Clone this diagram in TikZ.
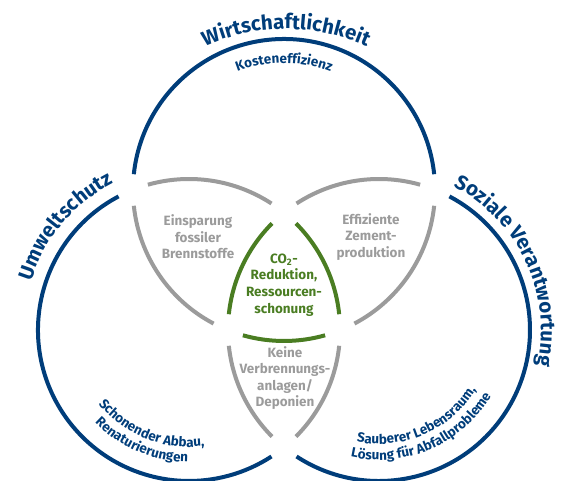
\documentclass[tikz,border=0pt]{standalone}
\usepackage{fontspec}
\setmainfont{Fira Sans}
\usetikzlibrary{decorations.text}

\definecolor{nblau}{RGB}{0,61,122}
\definecolor{ngrau}{RGB}{155,155,155}
\definecolor{ngruen}{RGB}{74,125,34}

\tikzstyle{ring} = [draw=nblau, line width=4bp]
\tikzstyle{lens} = [draw=ngrau, line width=4bp]
\tikzstyle{core} = [draw=ngruen, line width=4bp]
\tikzstyle{titel} = [decorate, decoration={text along path, text align=center, text color=nblau}]
\tikzstyle{feld} = [align=center, text=ngrau, font=\fontsize{13.5}{16.7}\selectfont\bfseries]

\begin{document}
\begin{tikzpicture}[x=1bp, y=1bp]
	\useasboundingbox (0,0) rectangle (566,481);
	\def\rad{151bp}

%Centres
	\coordinate (wirt) at (284,291);
	\coordinate (umw) at (189,151);
	\coordinate (soz) at (379,151);

%Circles
	\draw[ring] (wirt) ++(6:\rad) arc (6:174:\rad);
	\draw[lens] (wirt) ++(186:\rad) arc (186:242.2:\rad);
	\draw[core] (wirt) ++(254.2:\rad) arc (254.2:285.8:\rad);
	\draw[lens] (wirt) ++(297.8:\rad) arc (297.8:354:\rad);

	\draw[ring] (umw) ++(117.8:\rad) arc (117.8:303.1:\rad);
	\draw[lens] (umw) ++(56.9:\rad) arc (56.9:105.8:\rad);
	\draw[core] (umw) ++(6:\rad) arc (6:44.9:\rad);
	\draw[lens] (umw) ++(-44.9:\rad) arc (-44.9:-6:\rad);

	\draw[ring] (soz) ++(-123.1:\rad) arc (-123.1:62.2:\rad);
	\draw[lens] (soz) ++(74.2:\rad) arc (74.2:123.1:\rad);
	\draw[core] (soz) ++(135.1:\rad) arc (135.1:174:\rad);
	\draw[lens] (soz) ++(186:\rad) arc (186:224.9:\rad);

%Titles
	\path[titel, decoration={text={|\fontsize{20.5}{20.5}\selectfont\bfseries|Wirtschaftlichkeit}}] (286,257) ++(135:195bp) arc (135:45:195bp);
	\path[titel, decoration={text={|\fontsize{20.5}{20.5}\selectfont\bfseries|Umweltschutz}}] (umw) ++(175:165bp) arc (175:105:165bp);
	\path[titel, decoration={text={|\fontsize{20.5}{20.5}\selectfont\bfseries|Soziale Verantwortung}}] (soz) ++(80:162bp) arc (80:-30:162bp);

	\path[titel, decoration={text={|\fontsize{13.5}{13.5}\selectfont\bfseries|Kosteneffizienz}}] (wirt) ++(130:127bp) arc (130:50:127bp);
	\path[titel, decoration={text={|\fontsize{13.5}{13.5}\selectfont\bfseries|Schonender Abbau,}}] (umw) ++(200:117bp) arc (200:297:117bp);
	\path[titel, decoration={text={|\fontsize{13.5}{13.5}\selectfont\bfseries|Renaturierungen}}] (umw) ++(199:132bp) arc (199:295:132bp);
	\path[titel, decoration={text={|\fontsize{13.5}{13.5}\selectfont\bfseries|Sauberer Lebensraum,}}] (soz) ++(245:114bp) arc (245:342:114bp);
	\path[titel, decoration={text={|\fontsize{13.5}{13.5}\selectfont\bfseries|Lösung für Abfallprobleme}}] (soz) ++(245:130bp) arc (245:342:130bp);

%Nodes
	\node[feld] (spar) at (198,244) {Einsparung\\fossiler\\Brennstoffe};
	\node[feld] (zement) at (371,244) {Effiziente\\Zement-\\produktion};
	\node[feld, text=ngruen] (co2) at (284,196) {CO\textsubscript{2}-\\Reduktion,\\Ressourcen-\\schonung};
	\node[feld] (keine) at (285,103) {Keine\\Verbrennungs-\\anlagen/\\Deponien};

\end{tikzpicture}
\end{document}
